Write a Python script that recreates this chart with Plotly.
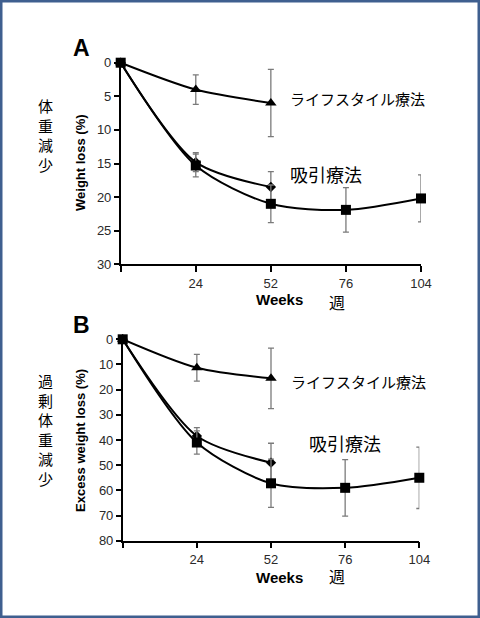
import plotly.graph_objects as go

# ---- data ----
week_labels = ["0", "24", "52", "76", "104"]

# Panel A: weight loss (%)
a_life = [0, 4.0, 6.0]
a_life_err = [0, 2.2, 5.0]
a_diam = [0, 14.8, 18.5]
a_diam_err = [0, 1.4, 2.3]
a_sq = [0, 15.3, 21.0, 21.9, 20.2]
a_sq_err = [0, 1.7, 2.8, 3.3, 3.5]

# Panel B: excess weight loss (%)
b_life = [0, 11.3, 15.5]
b_life_err = [0, 5.3, 12.0]
b_diam = [0, 38.4, 49.0]
b_diam_err = [0, 3.3, 7.7]
b_sq = [0, 41.0, 57.2, 59.0, 55.0]
b_sq_err = [0, 4.6, 9.6, 11.2, 12.2]

W, H = 480, 618
xpos = list(range(len(week_labels)))
ticktext = [""] + week_labels[1:]

FONT = "Liberation Sans, Arial, sans-serif"
CJK = "Noto Sans CJK JP"
ERRC = "#7a7a7a"

fig = go.Figure()


def add_series(y, err, symbol, size, xa, ya):
    fig.add_trace(go.Scatter(
        x=xpos[:len(y)], y=y, mode="lines+markers",
        line=dict(color="black", width=2, shape="spline", smoothing=0.8),
        marker=dict(symbol=symbol, size=size, color="black"),
        error_y=dict(type="data", array=err, visible=True, color=ERRC,
                     thickness=1.3, width=3),
        cliponaxis=False, xaxis=xa, yaxis=ya, showlegend=False,
    ))


for (life, le, dia, de, sq, se, xa, ya) in [
    (a_life, a_life_err, a_diam, a_diam_err, a_sq, a_sq_err, "x", "y"),
    (b_life, b_life_err, b_diam, b_diam_err, b_sq, b_sq_err, "x2", "y2"),
]:
    add_series(life, le, "triangle-up", 10, xa, ya)
    add_series(dia, de, "diamond", 8, xa, ya)
    add_series(sq, se, "square", 10, xa, ya)


def px_dom_x(a, b):
    return [a / W, b / W]


def px_dom_y(top, bottom):
    return [1 - bottom / H, 1 - top / H]


axis_common = dict(showline=True, linecolor="black", linewidth=1.5,
                   ticks="outside", tickcolor="black", tickwidth=1.5,
                   showgrid=False, zeroline=False, automargin=False,
                   tickfont=dict(family=FONT, size=13, color="#2a2a2a"))

fig.update_layout(
    template="none",
    font=dict(family=FONT, color="black"),
    width=W, height=H, margin=dict(l=0, r=0, t=0, b=0, pad=0),
    paper_bgcolor="white", plot_bgcolor="white",
    xaxis=dict(domain=px_dom_x(120.7, 421), range=[0, 4], tickvals=xpos,
               ticktext=ticktext, ticklen=6, anchor="y", **axis_common),
    yaxis=dict(domain=px_dom_y(62.7, 264.3), range=[30, 0],
               tickvals=[0, 5, 10, 15, 20, 25, 30], ticklen=5, anchor="x",
               **axis_common),
    xaxis2=dict(domain=px_dom_x(122.7, 419.3), range=[0, 4], tickvals=xpos,
                ticktext=ticktext, ticklen=6, anchor="y2", **axis_common),
    yaxis2=dict(domain=px_dom_y(339.3, 540.7), range=[80, 0],
                tickvals=[0, 10, 20, 30, 40, 50, 60, 70, 80], ticklen=5,
                anchor="x2", **axis_common),
)

ann = []


def paper(xp, yp):
    return xp / W, 1 - yp / H


def add_ann(text, xp, yp, size, family=FONT, xanchor="center", yanchor="middle",
            angle=0, color="black"):
    x, y = paper(xp, yp)
    ann.append(dict(text=text, x=x, y=y, xref="paper", yref="paper",
                    xanchor=xanchor, yanchor=yanchor, showarrow=False,
                    textangle=angle,
                    font=dict(family=family, size=size, color=color)))


# Panel letters
add_ann("<b>A</b>", 81, 48, 23)
add_ann("<b>B</b>", 81, 325, 23)

# Asterisks (data coordinates)
for xa, ya, yv in [("x", "y", -2.1), ("x2", "y2", -2.9)]:
    for xi in [1, 2]:
        ann.append(dict(text="*", x=xi, y=yv, xref=xa, yref=ya, showarrow=False,
                        font=dict(family=FONT, size=13, color="#222")))

# Group labels (data coordinates)
ann.append(dict(text="ライフスタイル療法", x=2.23, y=5.4, xref="x", yref="y",
                xanchor="left", showarrow=False,
                font=dict(family=CJK, size=15, color="black")))
ann.append(dict(text="吸引療法", x=2.23, y=16.5, xref="x", yref="y",
                xanchor="left", showarrow=False,
                font=dict(family=CJK, size=18, color="black")))
ann.append(dict(text="ライフスタイル療法", x=2.24, y=16.6, xref="x2", yref="y2",
                xanchor="left", showarrow=False,
                font=dict(family=CJK, size=15, color="black")))
ann.append(dict(text="吸引療法", x=2.48, y=41.0, xref="x2", yref="y2",
                xanchor="left", showarrow=False,
                font=dict(family=CJK, size=18, color="black")))

# Y-axis titles
add_ann("<b>Weight loss (%)</b>", 80, 163, 13, angle=-90)
add_ann("<b>Excess weight loss (%)</b>", 80, 441, 13, angle=-90)

# Vertical Japanese labels
add_ann("体<br>重<br>減<br>少", 45, 135.5, 15, family=CJK)
add_ann("過<br>剰<br>体<br>重<br>減<br>少", 45, 430, 15, family=CJK)

# X-axis titles
add_ann("<b>Weeks</b>", 279, 299, 15)
add_ann("週", 337, 302, 16, family=CJK)
add_ann("<b>Weeks</b>", 279, 577.5, 15)
add_ann("週", 337, 576, 16, family=CJK)

fig.update_layout(annotations=ann)

# Frame border
fig.add_shape(type="rect", xref="paper", yref="paper", x0=0, x1=1, y0=0, y1=1,
              line=dict(color="#3f5f8f", width=5), layer="above")

fig.write_html("out.html")
